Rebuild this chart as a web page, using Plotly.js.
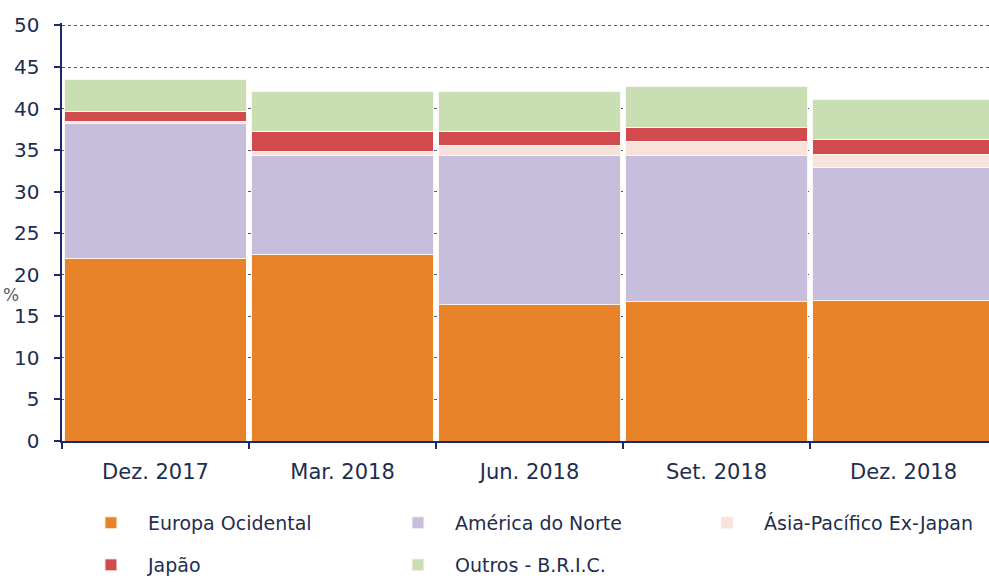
<!DOCTYPE html>
<html>
<head>
<meta charset="utf-8">
<script src="https://cdn.plot.ly/plotly-3.0.1.min.js"></script>
<style>
  html, body { margin: 0; padding: 0; background: #ffffff; }
  #chart { width: 989px; height: 582px; }
</style>
</head>
<body>
<div id="chart"></div>
<script>
const categories = ["Dez. 2017", "Mar. 2018", "Jun. 2018", "Set. 2018", "Dez. 2018"];
const europaOcidental = [22.0, 22.5, 16.4, 16.8, 16.9];
const americaDoNorte = [16.2, 11.9, 18.0, 17.6, 16.0];
const asiaPacifico = [0.3, 0.4, 1.2, 1.6, 1.6];
const japao = [1.2, 2.5, 1.7, 1.7, 1.8];
const outrosBRIC = [3.8, 4.8, 4.8, 4.9, 4.8];
const yTicks = [0, 5, 10, 15, 20, 25, 30, 35, 40, 45, 50];

const txt = "#1f2d4e";
const navy = "#1a2a6c";
const fontFam = "DejaVu Sans, Verdana, sans-serif";

function bar(name, y, color, legend) {
  return {
    type: "bar", name: name, x: categories, y: y,
    marker: { color: color, line: { color: "#fdf6ee", width: 1 } },
    legend: legend, hoverinfo: "skip"
  };
}

const data = [
  bar("Europa Ocidental", europaOcidental, "#e8832a", "legend"),
  bar("América do Norte", americaDoNorte, "#c7bddd", "legend2"),
  bar("Ásia-Pacífico Ex-Japan", asiaPacifico, "#f8e2dc", "legend3"),
  bar("Japão", japao, "#d14a4e", "legend4"),
  bar("Outros - B.R.I.C.", outrosBRIC, "#c9dfb3", "legend5")
];

function leg(x, y) {
  return {
    orientation: "h", xref: "paper", yref: "paper", xanchor: "left", yanchor: "middle",
    x: x, y: y, itemwidth: 64,
    font: { family: fontFam, size: 19, color: txt }, bgcolor: "rgba(0,0,0,0)"
  };
}
const row1 = -0.196, row2 = -0.2967;
const col1 = 0.0129, col2 = 0.3441, col3 = 0.6775;

const layout = {
  width: 989, height: 582,
  margin: { l: 62, r: 0, t: 23, b: 141, autoexpand: false },
  paper_bgcolor: "#ffffff", plot_bgcolor: "#ffffff",
  barmode: "stack", bargap: 0.022,
  font: { family: fontFam, color: txt },
  xaxis: {
    type: "category", range: [-0.5, 4.457],
    tickson: "boundaries", ticks: "outside", ticklen: 6, tickwidth: 2, tickcolor: navy,
    showline: true, linecolor: navy, linewidth: 2,
    showgrid: false, zeroline: false,
    tickfont: { family: fontFam, size: 21, color: txt },
    ticklabelstandoff: 11
  },
  yaxis: {
    range: [0, 50.3], tickvals: yTicks, ticktext: yTicks.map(String),
    ticks: "outside", ticklen: 6, tickwidth: 2, tickcolor: navy,
    showline: true, linecolor: navy, linewidth: 2.5,
    showgrid: true, gridcolor: "#4a5a80", griddash: "dot", gridwidth: 1,
    zeroline: false,
    tickfont: { family: fontFam, size: 20, color: txt },
    ticklabelstandoff: 10
  },
  legend: leg(col1, row1),
  legend2: leg(col2, row1),
  legend3: leg(col3, row1),
  legend4: leg(col1, row2),
  legend5: leg(col2, row2),
  annotations: [{
    text: "%", xref: "paper", yref: "paper", x: -0.055, y: 0.35,
    xanchor: "center", yanchor: "middle",
    showarrow: false, font: { family: fontFam, size: 17, color: "#555b6e" }
  }],
  showlegend: true
};

Plotly.newPlot("chart", data, layout, { displayModeBar: false, staticPlot: true });
</script>
</body>
</html>
